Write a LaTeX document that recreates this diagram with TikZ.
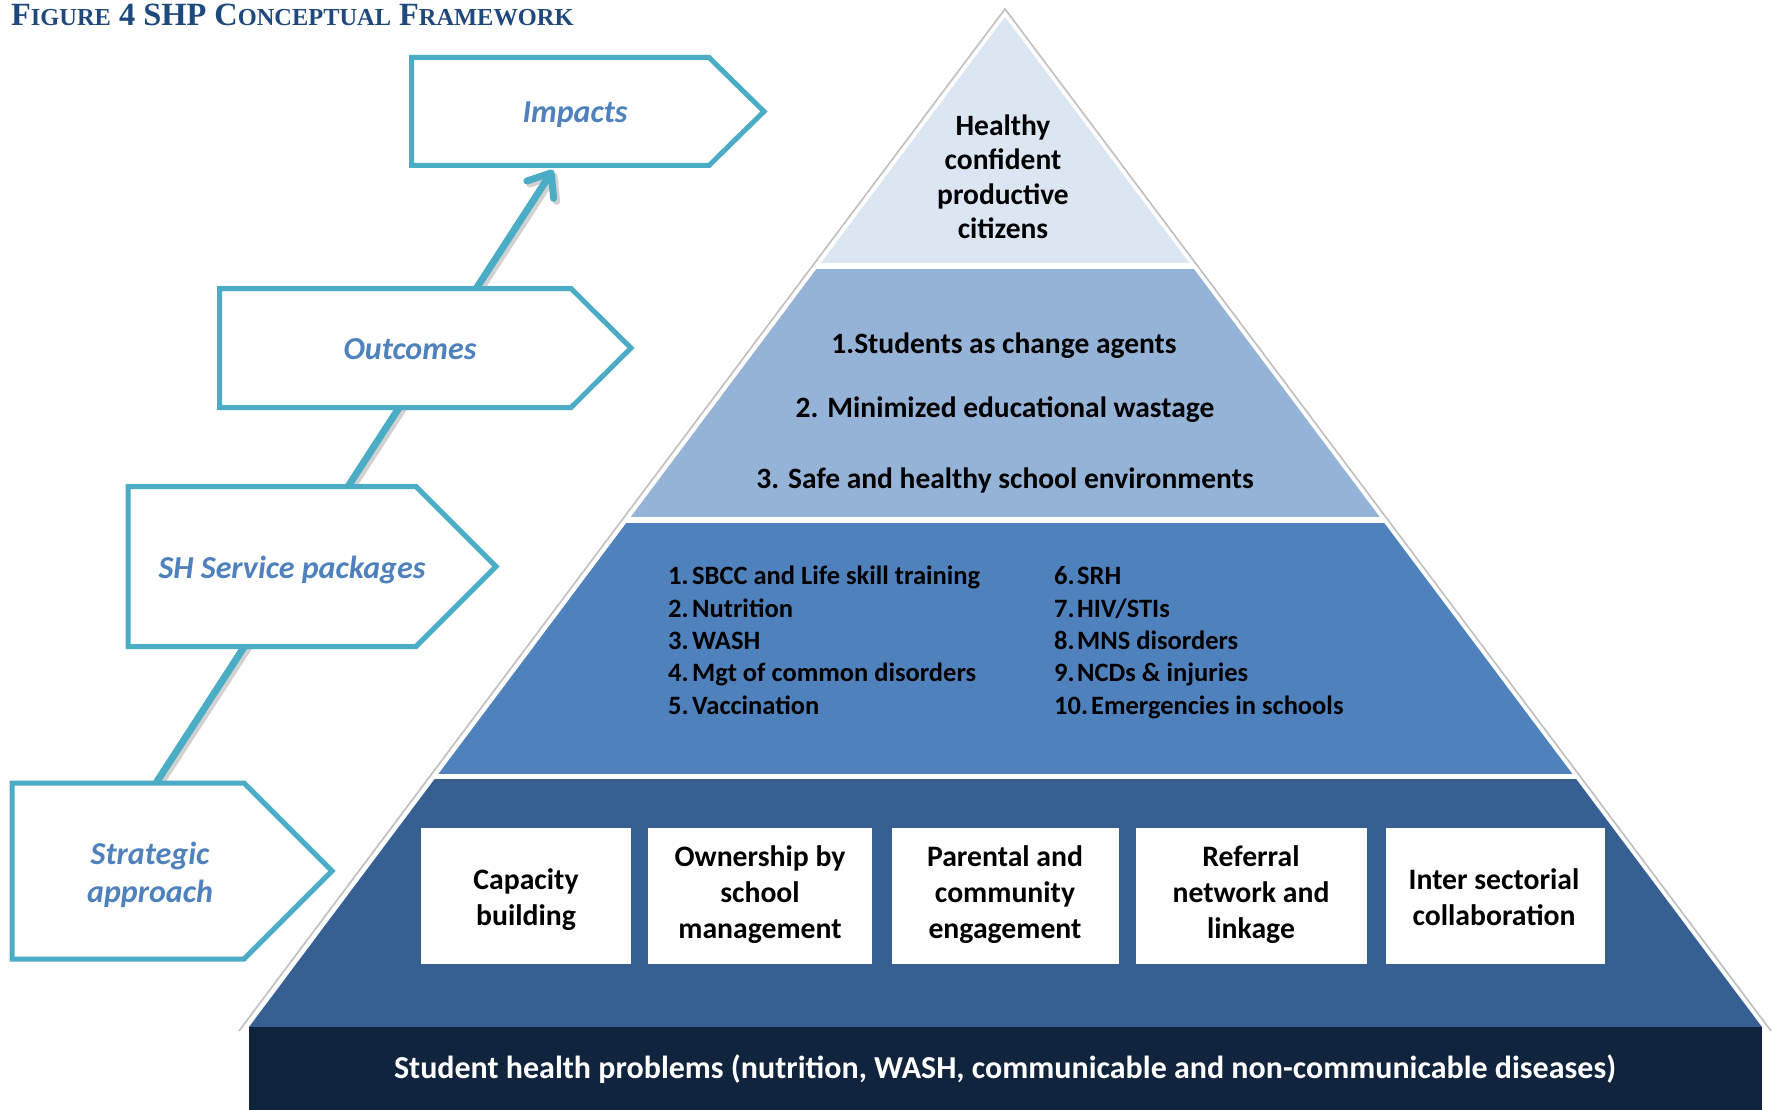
\documentclass[tikz,border=0pt]{standalone}
\usepackage{fontspec}
\setmainfont{Carlito}
\newfontfamily\titlefont{Liberation Serif}
\usetikzlibrary{arrows.meta}
\definecolor{layerone}{HTML}{DCE6F2}
\definecolor{layertwo}{HTML}{95B3D7}
\definecolor{layerthree}{HTML}{4F81BD}
\definecolor{layerfour}{HTML}{376092}
\definecolor{bandcol}{HTML}{10243E}
\definecolor{tealcol}{HTML}{4BACC6}
\definecolor{chevtext}{HTML}{4F81BD}
\definecolor{titleblue}{HTML}{1F497D}
\definecolor{outlinegray}{HTML}{BFBFBF}
\newcommand\mysc[1]{{\fontsize{24.4pt}{24.4pt}\selectfont #1}}
\begin{document}
\begin{tikzpicture}[x=1pt,y=-1pt,
  tx/.style={inner sep=0pt, font=\fontsize{29.5pt}{34.5pt}\selectfont\bfseries},
  boxtx/.style={inner sep=0pt, align=center, font=\fontsize{29.7pt}{36pt}\selectfont\bfseries},
  listtx/.style={inner sep=0pt, align=left, anchor=base west, font=\fontsize{26.5pt}{32.3pt}\selectfont\bfseries},
  chevtx/.style={inner sep=0pt, text=chevtext, font=\fontsize{32pt}{38pt}\selectfont\bfseries\itshape},
  chev/.style={draw=tealcol, line width=5pt, fill=white, line join=miter},
  wbox/.style={fill=white, draw=none, inner sep=0pt, minimum height=136pt},
  conn/.style={draw=tealcol, line width=7pt, -{Straight Barb[length=20pt,width=32pt,round]}},
  connshadow/.style={draw=black, opacity=0.18, line width=7pt, -{Straight Barb[length=20pt,width=32pt,round]}}
]
\useasboundingbox (0,0) rectangle (1773,1110);
\fill[white] (0,0) rectangle (1773,1110);

% title
\node[inner sep=0pt, anchor=base west, text=titleblue, font=\titlefont\bfseries\fontsize{32.4pt}{32.4pt}\selectfont] (title) at (11,26)
  {F\mysc{IGURE} 4 SHP C\mysc{ONCEPTUAL} F\mysc{RAMEWORK}};

% pyramid outline
\coordinate (apex) at (1005,9);
\coordinate (outl) at (239,1031);
\coordinate (outr) at (1771,1031);
\draw[outlinegray, line width=1.6pt] (outl) -- (apex) -- (outr);

% pyramid layers
\begin{scope}
  \clip (1005,17) -- (249,1027) -- (1762,1027) -- cycle;
  \fill[layerone] (0,0) rectangle (1773,263);
  \fill[layertwo] (0,269) rectangle (1773,517);
  \fill[layerthree] (0,523) rectangle (1773,774);
  \fill[layerfour] (0,779) rectangle (1773,1027);
\end{scope}

% bottom band
\fill[bandcol] (249,1027) rectangle (1762,1110);
\node[inner sep=0pt, anchor=base, text=white, font=\fontsize{32pt}{36pt}\selectfont\bfseries] (band) at (1005,1078)
  {Student health problems (nutrition, WASH, communicable and non-communicable diseases)};

% layer 1 text (base = last line)
\node[tx, anchor=base, align=center] (top) at (1003,239)
  {Healthy\\confident\\productive\\citizens};

% layer 2 text
\node[tx, anchor=base] (out1) at (1004,353) {1.Students as change agents};
\node[tx, anchor=base] (out2) at (1005,417) {2. Minimized educational wastage};
\node[tx, anchor=base] (out3) at (1005,488) {3. Safe and healthy school environments};

% layer 3 text (base = last line)
\node[listtx] (pkgl) at (668,714)
  {\makebox[24pt][l]{1.}SBCC and Life skill training\\
   \makebox[24pt][l]{2.}Nutrition\\
   \makebox[24pt][l]{3.}WASH\\
   \makebox[24pt][l]{4.}Mgt of common disorders\\
   \makebox[24pt][l]{5.}Vaccination};
\node[listtx] (pkgr) at (1054,714)
  {\makebox[23pt][l]{6.}SRH\\
   \makebox[23pt][l]{7.}HIV/STIs\\
   \makebox[23pt][l]{8.}MNS disorders\\
   \makebox[23pt][l]{9.}NCDs \& injuries\\
   10.\hspace{3pt}Emergencies in schools};

% layer 4 boxes
\node[wbox, minimum width=210pt] (b1) at (526,896) {};
\node[wbox, minimum width=224pt] (b2) at (760,896) {};
\node[wbox, minimum width=227pt] (b3) at (1005.5,896) {};
\node[wbox, minimum width=231pt] (b4) at (1251.5,896) {};
\node[wbox, minimum width=219pt] (b5) at (1495.5,896) {};
\node[boxtx, anchor=base] (b1t) at (526,925) {Capacity\\building};
\node[boxtx, anchor=base] (b2t) at (760,938) {Ownership by\\school\\management};
\node[boxtx, anchor=base] (b3t) at (1005,938) {Parental and\\community\\engagement};
\node[boxtx, anchor=base] (b4t) at (1251,938) {Referral\\network and\\linkage};
\node[boxtx, anchor=base] (b5t) at (1494,925) {Inter sectorial\\collaboration};

% connector (behind chevrons)
\coordinate (satop) at (156,783);
\coordinate (imbot) at (553,170);
\draw[connshadow] ([shift={(3,3)}]satop) -- ([shift={(3,3)}]imbot);
\draw[conn] (satop) -- (imbot);

% chevrons
\draw[chev] (411.5,57.5) -- (709,57.5) -- (764,111.5) -- (709,165.5) -- (411.5,165.5) -- cycle;
\draw[chev] (219.5,288.5) -- (571,288.5) -- (631,348) -- (571,407.5) -- (219.5,407.5) -- cycle;
\draw[chev] (128,486.5) -- (416,486.5) -- (496,566.5) -- (416,646.5) -- (128,646.5) -- cycle;
\draw[chev] (12,783) -- (244,783) -- (332,871) -- (244,959) -- (12,959) -- cycle;

\node[chevtx, anchor=base] (imp) at (575,123) {Impacts};
\node[chevtx, anchor=base] (outc) at (410,359) {Outcomes};
\node[chevtx, anchor=base] (shs) at (292,578) {SH Service packages};
\node[chevtx, anchor=base, align=center] (strat) at (150,902) {Strategic\\approach};
\end{tikzpicture}
\end{document}
